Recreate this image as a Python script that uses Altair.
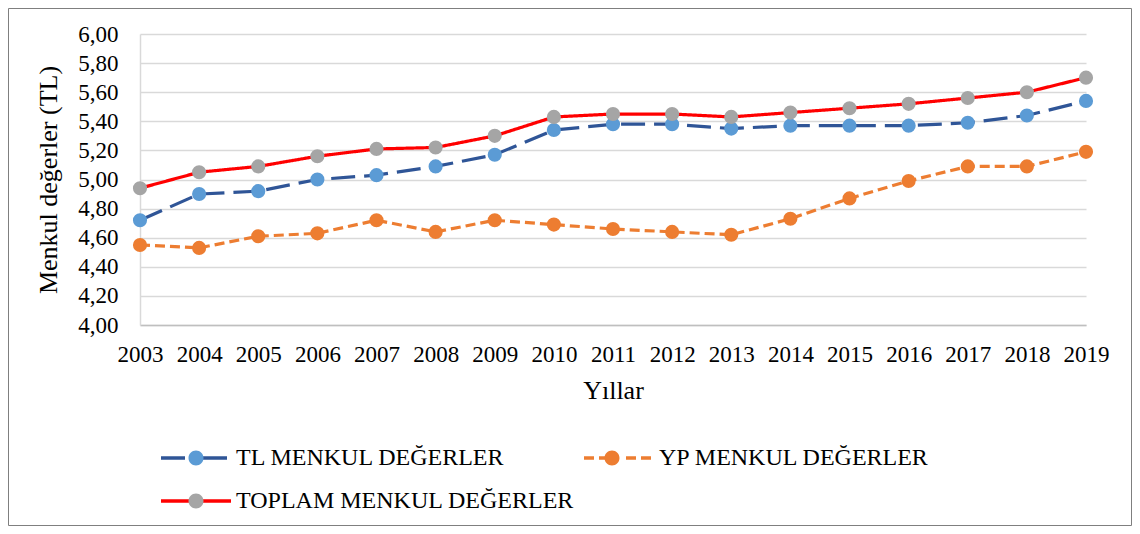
import altair as alt
import pandas as pd

years = list(range(2003, 2020))
series_names = ["TL MENKUL DEĞERLER", "YP MENKUL DEĞERLER", "TOPLAM MENKUL DEĞERLER"]
tl_values = [4.72, 4.90, 4.92, 5.00, 5.03, 5.09, 5.17, 5.34, 5.38, 5.38, 5.35, 5.37, 5.37, 5.37, 5.39, 5.44, 5.54]
yp_values = [4.55, 4.53, 4.61, 4.63, 4.72, 4.64, 4.72, 4.69, 4.66, 4.64, 4.62, 4.73, 4.87, 4.99, 5.09, 5.09, 5.19]
toplam_values = [4.94, 5.05, 5.09, 5.16, 5.21, 5.22, 5.30, 5.43, 5.45, 5.45, 5.43, 5.46, 5.49, 5.52, 5.56, 5.60, 5.70]
y_ticks = [4.0, 4.2, 4.4, 4.6, 4.8, 5.0, 5.2, 5.4, 5.6, 5.8, 6.0]

line_colors = ["#2F5597", "#ED7D31", "#FF0000"]
marker_colors = ["#5B9BD5", "#ED7D31", "#A5A5A5"]
dashes = [[24, 9], [10, 5], [1, 0]]

rows = []
for name, vals in zip(series_names, [tl_values, yp_values, toplam_values]):
    for yr, v in zip(years, vals):
        rows.append({"series": name, "year": yr, "value": v})
df = pd.DataFrame(rows)

FONT = "Liberation Serif"
W, H = 946, 291

x_enc = alt.X(
    "year:Q",
    scale=alt.Scale(domain=[2003, 2019], nice=False, zero=False),
    axis=alt.Axis(
        values=years, format="d", title="Yıllar", labelFlush=False, labelOverlap=False,
        grid=False, ticks=False, domain=True, domainColor="#BFBFBF", domainWidth=1.5,
        labelFont=FONT, labelFontSize=23, labelColor="#000000", labelPadding=18,
        titleFont=FONT, titleFontSize=26, titleFontWeight="normal", titleColor="#000000",
        titleX=W / 2, titleY=65, titleBaseline="middle", titleAlign="center",
    ),
)
y_enc = alt.Y(
    "value:Q",
    scale=alt.Scale(domain=[4.0, 6.0], nice=False, zero=False),
    axis=alt.Axis(
        values=y_ticks, labelExpr="replace(format(datum.value, '.2f'), '.', ',')",
        title="Menkul değerler (TL)", grid=True, gridColor="#D9D9D9", gridWidth=1.5,
        ticks=False, domain=True, domainColor="#D9D9D9", domainWidth=1.5,
        labelFont=FONT, labelFontSize=23, labelColor="#000000", labelPadding=22,
        titleFont=FONT, titleFontSize=26, titleFontWeight="normal", titleColor="#000000",
        titleX=-92, titleY=H / 2, titleAngle=-90, titleBaseline="middle", titleAlign="center",
    ),
)

legend_common = dict(
    orient="none", legendX=44, legendY=412, columns=2, columnPadding=2, rowPadding=19,
    direction="horizontal",
    labelFont=FONT, labelFontSize=24, labelLimit=600, values=series_names,
    labelOffset=28, symbolSize=400, padding=0, title=None,
)

line_path = "M-3.5,0L-0.7,0M0.7,0L3.5,0"
circle_path = "M-3.5,0L3.5,0M-0.75,0A0.75,0.75,0,1,1,0.75,0A0.75,0.75,0,1,1,-0.75,0Z"

line_legend = alt.Legend(symbolType=line_path, symbolStrokeWidth=3.5, labelColor="#000000",
                         **legend_common)

lines = alt.Chart(df).mark_line(strokeWidth=3.2).encode(
    x=x_enc,
    y=y_enc,
    stroke=alt.Stroke(
        "series:N", sort=series_names,
        scale=alt.Scale(domain=series_names, range=line_colors),
        legend=line_legend,
    ),
    strokeDash=alt.StrokeDash(
        "series:N", sort=series_names,
        scale=alt.Scale(domain=series_names, range=dashes),
        legend=line_legend,
    ),
)

points = alt.Chart(df).mark_circle(size=200, opacity=1).encode(
    x=x_enc,
    y=y_enc,
    fill=alt.Fill(
        "series:N", sort=series_names,
        scale=alt.Scale(domain=series_names, range=marker_colors),
        legend=alt.Legend(symbolType=circle_path, symbolStrokeWidth=0, symbolOpacity=1,
                          labelColor="transparent", **legend_common),
    ),
)

frame_df = pd.DataFrame({"k": [0]})
frame = alt.Chart(frame_df).mark_rect(filled=False, stroke="#7F7F7F", strokeWidth=1).encode(
    x=alt.value(-131.5), x2=alt.value(W + 45.5), y=alt.value(-25.5), y2=alt.value(H + 200.5)
)

chart = alt.layer(frame, lines, points).resolve_legend(fill="independent").properties(
    width=W, height=H,
    autosize=alt.AutoSizeParams(type="none"),
    padding={"left": 132, "top": 26, "right": 46, "bottom": 201},
    background="white",
).configure_view(stroke=None)

chart.save("out.html", embed_options={"renderer": "svg", "actions": False})
